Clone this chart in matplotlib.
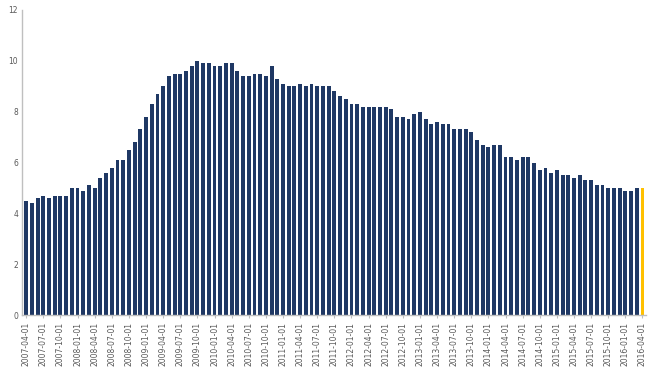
import matplotlib
matplotlib.use("Agg")
import matplotlib.pyplot as plt
import pandas as pd

start_month = "2007-04-01"
end_month = "2016-04-01"
rates = [
    4.5, 4.4, 4.6, 4.7, 4.6, 4.7, 4.7, 4.7, 5.0,            # 2007-04 .. 2007-12
    5.0, 4.9, 5.1, 5.0, 5.4, 5.6, 5.8, 6.1, 6.1, 6.5, 6.8, 7.3,   # 2008
    7.8, 8.3, 8.7, 9.0, 9.4, 9.5, 9.5, 9.6, 9.8, 10.0, 9.9, 9.9,  # 2009
    9.8, 9.8, 9.9, 9.9, 9.6, 9.4, 9.4, 9.5, 9.5, 9.4, 9.8, 9.3,   # 2010
    9.1, 9.0, 9.0, 9.1, 9.0, 9.1, 9.0, 9.0, 9.0, 8.8, 8.6, 8.5,   # 2011
    8.3, 8.3, 8.2, 8.2, 8.2, 8.2, 8.2, 8.1, 7.8, 7.8, 7.7, 7.9,   # 2012
    8.0, 7.7, 7.5, 7.6, 7.5, 7.5, 7.3, 7.3, 7.3, 7.2, 6.9, 6.7,   # 2013
    6.6, 6.7, 6.7, 6.2, 6.2, 6.1, 6.2, 6.2, 6.0, 5.7, 5.8, 5.6,   # 2014
    5.7, 5.5, 5.5, 5.4, 5.5, 5.3, 5.3, 5.1, 5.1, 5.0, 5.0, 5.0,   # 2015
    4.9, 4.9, 5.0, 5.0,                                            # 2016
]
dates = pd.date_range(start_month, end_month, freq="MS")
labels = [d.strftime("%Y-%m-%d") for d in dates]
y_ticks = [0, 2, 4, 6, 8, 10, 12]

navy = "#1F3864"
gold = "#FFC000"
colors = [navy] * (len(rates) - 1) + [gold]

fig = plt.figure(figsize=(6.53, 3.69), dpi=100)
ax = fig.add_axes([0.034, 0.146, 0.956, 0.827])
x = list(range(len(rates)))
ax.bar(x, rates, width=0.68, color=colors, edgecolor="none")

ax.set_ylim(0, 12)
ax.set_xlim(-0.7, len(rates) - 0.3)
ax.set_yticks(y_ticks)
ax.set_yticklabels([str(v) for v in y_ticks])
tick_pos = x[::3]
ax.set_xticks(tick_pos)
ax.set_xticklabels(labels[::3], rotation=90)
ax.tick_params(axis="both", labelsize=5.5, colors="#595959", length=0, pad=3)
ax.tick_params(axis="x", length=2, color="#BFBFBF")

for s in ["top", "right"]:
    ax.spines[s].set_visible(False)
for s in ["left", "bottom"]:
    ax.spines[s].set_color("#BFBFBF")
    ax.spines[s].set_linewidth(1.0)

fig.savefig("out.png", dpi=100)
